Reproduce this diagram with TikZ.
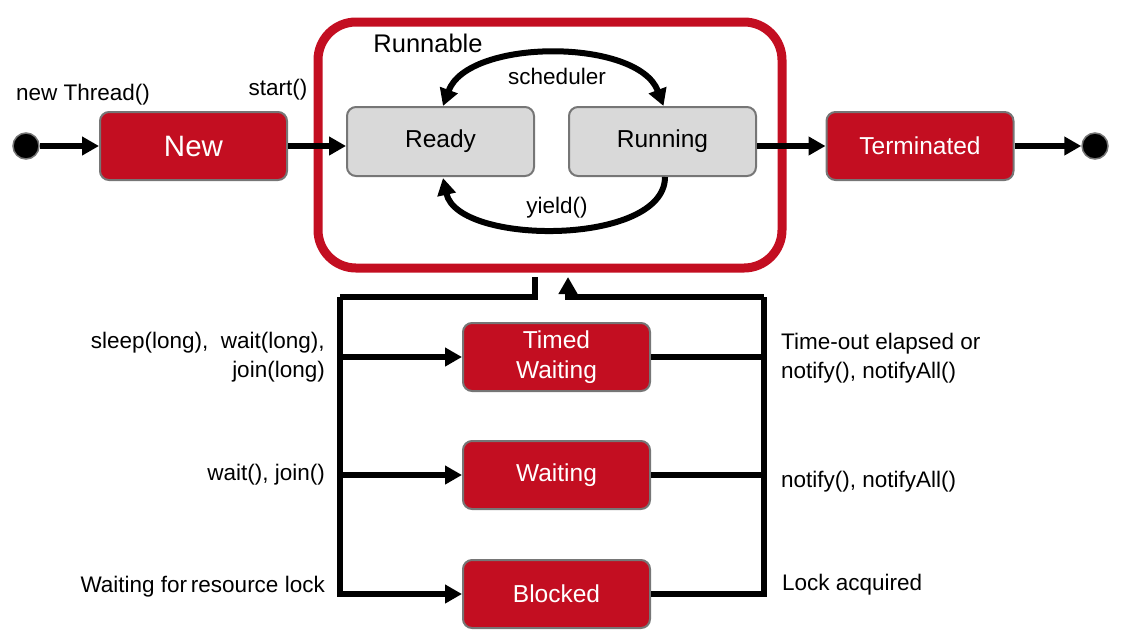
\documentclass[tikz,border=0pt]{standalone}
\usepackage{fontspec}
\setmainfont{Liberation Sans}
\usetikzlibrary{arrows.meta,calc}
\definecolor{jred}{HTML}{C30E21}
\definecolor{jgray}{HTML}{D9D9D9}
\definecolor{jedge}{HTML}{767676}
\begin{document}
\begin{tikzpicture}[x=1pt,y=-1pt,
  redstate/.style={draw=jedge, line width=2pt, fill=jred, rounded corners=9pt,
    minimum width=187pt, minimum height=68pt, text=white, inner sep=0pt,
    font=\fontsize{24.5}{30}\selectfont, align=center},
  graystate/.style={draw=jedge, line width=2pt, fill=jgray, rounded corners=9pt,
    minimum width=187pt, minimum height=69pt, text=black, inner sep=0pt,
    font=\fontsize{24.5}{27}\selectfont},
  dot/.style={circle, draw=jedge, line width=1.5pt, fill=black, minimum size=26pt, inner sep=0pt},
  lbl/.style={font=\fontsize{22.5}{29}\selectfont, inner sep=0pt},
  conn/.style={line width=6pt, draw=black},
  arr/.style={conn, -{Triangle[length=17pt,width=18pt]}},
  darr/.style={conn, {Triangle[length=17pt,width=18pt]}-{Triangle[length=17pt,width=18pt]}},
]
\useasboundingbox (0,0) rectangle (1123,641);

% Runnable container
\node[draw=jred, line width=9pt, rounded corners=38pt, minimum width=464pt, minimum height=246pt, inner sep=0pt] (runnable) at (550,145) {};
\node[lbl, anchor=base, font=\fontsize{25.5}{29}\selectfont] (runlbl) at (428,52) {Runnable};

% states
\node[dot] (start) at (26,146) {};
\node[redstate, font=\fontsize{29.5}{32}\selectfont] (new) at (193.5,146) {New};
\node[graystate] (ready) at (440.5,141.5) {Ready};
\node[graystate] (running) at (662.5,141.5) {Running};
\node[redstate] (term) at (920,146) {Terminated};
\node[dot] (end) at (1095,146) {};

\node[redstate] (timed) at (556.5,357) {Timed\\Waiting};
\node[redstate] (waiting) at (556.5,475) {Waiting};
\node[redstate] (blocked) at (556.5,594) {Blocked};

% top labels
\node[lbl, anchor=base] (lnew) at (83,100) {new Thread()};
\node[lbl, anchor=base] (lstart) at (278,95) {start()};
\node[lbl, anchor=base] (lsched) at (557,84) {scheduler};
\node[lbl, anchor=base] (lyield) at (557,213) {yield()};

% top arrows
\draw[arr] (start) -- (new);
\draw[arr] (new.east) -- (new.east -| ready.west);
\draw[arr] (running.east |- term.west) -- (term.west);
\draw[arr] (term) -- (end);

\draw[darr] ($(ready.north)+(2.5,0)$) .. controls (468,38) and (638,38) .. ($(running.north)+(1,0)$);
\draw[arr] ($(running.south)+(2.5,0)$) .. controls (665,246) and (458,246) .. ($(ready.south)+(2.5,1)$);

% bus coordinates
\coordinate (lbus) at (340,297);
\coordinate (rbus) at (764,297);

% left bus
\draw[conn] ([xshift=-15pt,yshift=-4.5pt]runnable.south) |- (lbus);
\draw[arr] (lbus) |- (blocked.west);
\draw[arr] (lbus |- timed.west) -- (timed.west);
\draw[arr] (lbus |- waiting.west) -- (waiting.west);

% right bus
\draw[conn] (blocked.east) -| (rbus);
\draw[arr] (rbus) -| ([xshift=18pt,yshift=-4.5pt]runnable.south);
\draw[conn] (timed.east) -- (timed.east -| rbus);
\draw[conn] (waiting.east) -- (waiting.east -| rbus);

% bottom labels
\node[lbl, anchor=base east, align=right] (ltimed) at (325,377) {sleep(long),\ \ wait(long),\\join(long)};
\node[lbl, anchor=base east] (lwait) at (325,480) {wait(), join()};
\node[lbl, anchor=base east] (lblock) at (325,592) {Waiting for\,resource lock};

\node[lbl, anchor=base west, align=left] (rtimed) at (781,378) {Time-out elapsed or\\notify(), notifyAll()};
\node[lbl, anchor=base west] (rwait) at (781,487) {notify(), notifyAll()};
\node[lbl, anchor=base west] (rblock) at (782,590) {Lock acquired};
\end{tikzpicture}
\end{document}
